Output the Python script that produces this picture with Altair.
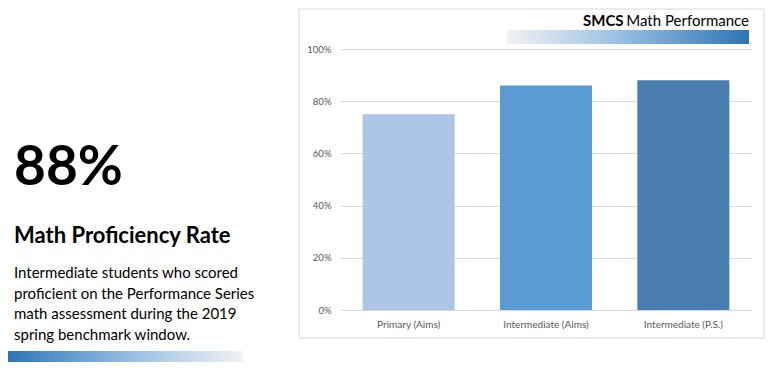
import altair as alt
import pandas as pd

categories = ["Primary (Aims)", "Intermediate (Aims)", "Intermediate (P.S.)"]
values = [0.75, 0.86, 0.88]
bar_colors = ["#aec6e6", "#5b9bd5", "#4a7eb0"]
y_ticks = [0, 0.2, 0.4, 0.6, 0.8, 1.0]

headline = "88%"
subhead = "Math Proficiency Rate"
body_lines = [
    "Intermediate students who scored",
    "proficient on the Performance Series",
    "math assessment during the 2019",
    "spring benchmark window.",
]
title_bold = "SMCS"
title_rest = "Math Performance"

FONT = "Lato"
df = pd.DataFrame({"category": categories, "value": values})
one = alt.Data(values=[{}])

bars = alt.Chart(df).mark_bar().encode(
    x=alt.X("category:N", sort=categories,
            scale=alt.Scale(paddingInner=0.33, paddingOuter=0.165),
            axis=alt.Axis(title=None, labelAngle=0, domain=False, ticks=False,
                          labelColor="#595959", labelFontSize=10, labelFont=FONT,
                          labelPadding=9)),
    y=alt.Y("value:Q", scale=alt.Scale(domain=[0, 1]),
            axis=alt.Axis(title=None, values=y_ticks, format=".0%", domain=False,
                          ticks=False, gridColor="#d9d9d9", labelColor="#595959",
                          labelFontSize=9.5, labelFont=FONT, labelPadding=9)),
    color=alt.Color("category:N", scale=alt.Scale(domain=categories, range=bar_colors),
                    legend=None),
)

border = alt.Chart(one).mark_rect(fill="transparent", stroke="#d9d9d9", strokeWidth=1).encode(
    x=alt.value(-41), x2=alt.value(424), y=alt.value(-40), y2=alt.value(289)
)

grad_top = alt.LinearGradient(
    gradient="linear",
    stops=[alt.GradientStop(color="#f2f2f2", offset=0),
           alt.GradientStop(color="#9cc2e5", offset=0.45),
           alt.GradientStop(color="#2e75b6", offset=1)],
    x1=0, x2=1, y1=0, y2=0)
grad_bottom = alt.LinearGradient(
    gradient="linear",
    stops=[alt.GradientStop(color="#2e75b6", offset=0),
           alt.GradientStop(color="#9cc2e5", offset=0.55),
           alt.GradientStop(color="#f2f2f2", offset=1)],
    x1=0, x2=1, y1=0, y2=0)

top_bar = alt.Chart(one).mark_rect(color=grad_top).encode(
    x=alt.value(167), x2=alt.value(409), y=alt.value(-19), y2=alt.value(-5)
)
bottom_bar = alt.Chart(one).mark_rect(color=grad_bottom).encode(
    x=alt.value(-333), x2=alt.value(-97), y=alt.value(302), y2=alt.value(316)
)

t_bold = alt.Chart(one).mark_text(text=title_bold, font=FONT, fontWeight="bold",
                                  fontSize=15, align="left", baseline="alphabetic",
                                  color="#000000").encode(x=alt.value(243), y=alt.value(-23))
t_rest = alt.Chart(one).mark_text(text=title_rest, font=FONT, fontSize=15,
                                  align="right", baseline="alphabetic",
                                  color="#000000").encode(x=alt.value(409), y=alt.value(-23))

h1 = alt.Chart(one).mark_text(text=headline, font=FONT, fontWeight="bold", fontSize=55,
                              align="left", baseline="alphabetic",
                              color="#000000").encode(x=alt.value(-326), y=alt.value(136))
h2 = alt.Chart(one).mark_text(text=subhead, font=FONT, fontWeight="bold", fontSize=22,
                              align="left", baseline="alphabetic",
                              color="#000000").encode(x=alt.value(-326), y=alt.value(194))
body = alt.Chart(one).mark_text(text=body_lines, font=FONT, fontSize=15, lineHeight=20.7,
                                align="left", baseline="alphabetic",
                                color="#000000").encode(x=alt.value(-326), y=alt.value(229))

chart = alt.layer(border, top_bar, bottom_bar, bars, t_bold, t_rest, h1, h2, body).properties(
    width=412, height=261,
    padding={"left": 332, "top": 41, "right": 14, "bottom": 52},
    autosize=alt.AutoSizeParams(type="none"),
    background="#ffffff",
).configure_view(stroke=None)

chart.save("out.html", embed_options={"renderer": "svg", "actions": False})
